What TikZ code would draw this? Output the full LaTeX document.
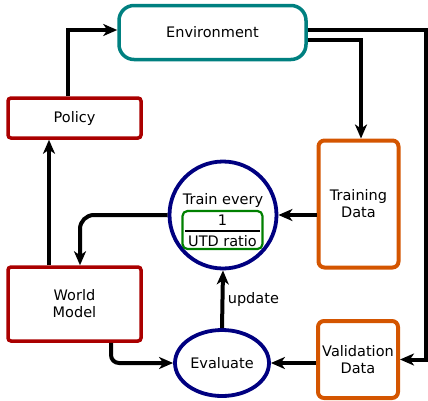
\documentclass[tikz,border=0pt]{standalone}
\usepackage{fontspec}
\setmainfont{DejaVu Sans}
\usetikzlibrary{arrows.meta,shapes.geometric,calc}
\definecolor{envc}{HTML}{008080}
\definecolor{redc}{HTML}{AA0000}
\definecolor{orac}{HTML}{D45500}
\definecolor{navc}{HTML}{000080}
\definecolor{grnc}{HTML}{008000}
\tikzset{
  lbl/.style={font=\fontsize{14.5}{17}\selectfont, align=center},
  box/.style={draw, line width=3.5pt, lbl, inner sep=0pt},
  redbox/.style={box, draw=redc, rounded corners=3pt},
  orabox/.style={box, draw=orac, line width=4pt, rounded corners=6pt},
  arr/.style={line width=4pt, -{Stealth[length=14pt,width=12pt,inset=4pt]}},
}
\begin{document}
\begin{tikzpicture}[x=1pt,y=-1pt]
\useasboundingbox (0,0) rectangle (428,400);
\node[box, draw=envc, rounded corners=15pt, minimum width=187pt, minimum height=54pt] (env) at (212.5,32.5) {Environment};
\node[redbox, minimum width=133pt, minimum height=40pt] (policy) at (74.5,118) {Policy};
\node[redbox, minimum width=133pt, minimum height=74pt] (wm) at (74.5,304) {World\\Model};
\node[orabox, minimum width=80pt, minimum height=127pt] (train) at (358.5,204) {Training\\Data};
\node[orabox, minimum width=80pt, minimum height=77pt] (val) at (358,359.5) {Validation\\Data};
\node[draw=navc, line width=3.8pt, circle, minimum size=107pt, inner sep=0pt] (circ) at (223,215) {};
\node[draw=navc, line width=3.8pt, ellipse, minimum width=94pt, minimum height=66pt, inner sep=0pt, lbl] (eval) at (222,363) {Evaluate};
\node[lbl] (trainevery) at (223,200) {Train every};
\node[draw=grnc, line width=2.2pt, rounded corners=5pt, minimum width=80pt, minimum height=38pt, inner sep=0pt] (ratio) at (222.5,230) {};
\node[lbl, inner sep=0pt] (one) at (222.5,220) {1};
\node[lbl, inner sep=0pt] (utd) at (222.5,241) {UTD ratio};
\draw[line width=1.8pt] ($(ratio.west)+(4,1)$) -- ($(ratio.east)+(-4,1)$);
% connectors
\draw[arr] ([xshift=-6.5pt]policy.north) |- ([yshift=2.5pt]env.west);
\draw[arr] ([yshift=2.5pt]env.east) -- ++(118,0) |- (val.east);
\draw[arr] ([yshift=-7pt]env.east) -| ([xshift=2.5pt]train.north);
\draw[arr] (train.west |- circ.east) -- (circ.east);
\draw[arr, rounded corners=14pt] (circ.west) -| ([xshift=5.5pt]wm.north);
\draw[arr] ([xshift=-25.5pt]wm.north) -- ([xshift=-25.5pt]policy.south);
\draw[arr, rounded corners=8pt] ([xshift=36.5pt]wm.south) |- (eval.west);
\draw[arr] (val.west |- eval.east) -- (eval.east);
\draw[arr] (eval.north) -- node[lbl, right, pos=0.5] (upd) {update} (circ.south);
\end{tikzpicture}
\end{document}
